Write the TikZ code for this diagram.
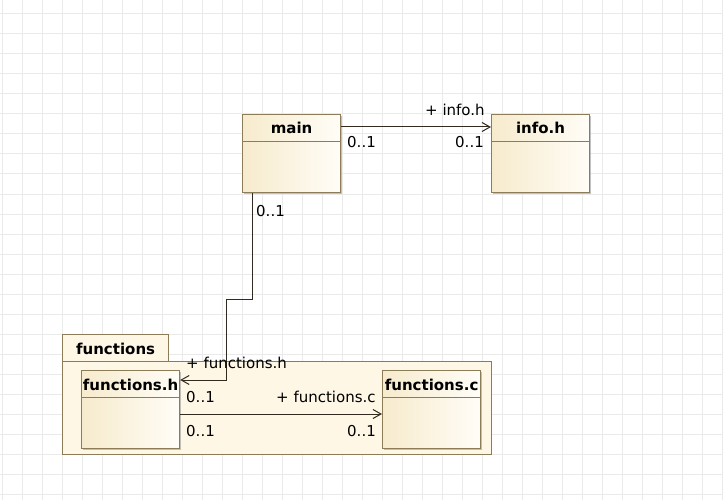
\documentclass[tikz,border=0pt]{standalone}
\usepackage{fontspec}
\setmainfont{DejaVu Sans}
\usetikzlibrary{arrows.meta,shadows}

\definecolor{gridgray}{RGB}{234,234,234}
\definecolor{boxedge}{RGB}{141,124,88}
\definecolor{boxtan}{RGB}{247,235,205}
\definecolor{boxlight}{RGB}{255,253,247}
\definecolor{pkgfill}{RGB}{254,247,230}
\definecolor{wire}{RGB}{50,42,30}

\tikzset{
  gridline/.style={draw=gridgray, line width=1pt},
  classbox/.style={draw=boxedge, line width=1.2pt, left color=boxtan, right color=boxlight,
    anchor=north west, inner sep=0pt, minimum width=98pt, minimum height=78pt,
    drop shadow={shadow xshift=1pt, shadow yshift=-1pt, fill=black!40, opacity=.6}},
  pkgbox/.style={draw=boxedge, line width=1.2pt, fill=pkgfill, anchor=north west, inner sep=0pt},
  divider/.style={draw=boxedge, line width=1pt},
  title/.style={font=\fontsize{15}{18}\selectfont\bfseries, inner sep=0pt, anchor=base},
  lbl/.style={font=\fontsize{15}{18}\selectfont, inner sep=0pt, anchor=base west},
  assoc/.style={draw=wire, line width=1pt, ->}
}

\begin{document}
\begin{tikzpicture}[x=1pt, y=-1pt, >={Straight Barb[length=8pt,width=9pt]}]
  \useasboundingbox[fill=white] (0,0) rectangle (723,500);

  % background grid
  \foreach \gx in {2,22,...,722} \draw[gridline] (\gx,0) -- (\gx,500);
  \foreach \gy in {14,34,...,494} \draw[gridline] (0,\gy) -- (723,\gy);

  % package
  \node[pkgbox, minimum width=429pt, minimum height=93pt] (pkg) at (62,361) {};
  \node[pkgbox, minimum width=106pt, minimum height=27pt] (pkgtab) at (62,334) {};
  \node[title] (pkgname) at ([yshift=-20pt]pkgtab.north) {functions};

  % classes
  \node[classbox] (main) at (242,114) {};
  \node[classbox] (info) at (491,114) {};
  \node[classbox] (fh) at (81,370) {};
  \node[classbox] (fc) at (382,370) {};

  \draw[divider] ([yshift=-27.5pt]main.north west) -- ([yshift=-27.5pt]main.north east);
  \draw[divider] ([yshift=-27.5pt]info.north west) -- ([yshift=-27.5pt]info.north east);
  \draw[divider] ([yshift=-27.5pt]fh.north west) -- ([yshift=-27.5pt]fh.north east);
  \draw[divider] ([yshift=-27.5pt]fc.north west) -- ([yshift=-27.5pt]fc.north east);

  \node[title] (main-t) at ([yshift=-20pt]main.north) {main};
  \node[title] (info-t) at ([yshift=-20pt]info.north) {info.h};
  \node[title] (fh-t) at ([yshift=-20pt]fh.north) {functions.h};
  \node[title] (fc-t) at ([yshift=-20pt]fc.north) {functions.c};

  % associations
  \draw[assoc] ([yshift=-13pt]main.north east) -- ([yshift=-13pt]info.north west);
  \draw[assoc] ([xshift=10pt]main.south west) -- ++(0,106) -- ++(-26,0) |- ([yshift=-10pt]fh.north east);
  \draw[assoc] ([yshift=-44pt]fh.north east) -- ([yshift=-44pt]fc.north west);

  \node[lbl] (l1) at (425,116) {+ info.h};
  \node[lbl] (l2) at (347,148) {0..1};
  \node[lbl] (l3) at (455,148) {0..1};
  \node[lbl] (l4) at (256,216) {0..1};
  \node[lbl] (l5) at (186,368) {+ functions.h};
  \node[lbl] (l6) at (186,402) {0..1};
  \node[lbl] (l7) at (276,402) {+ functions.c};
  \node[lbl] (l8) at (186,436) {0..1};
  \node[lbl] (l9) at (347,436) {0..1};
\end{tikzpicture}
\end{document}
